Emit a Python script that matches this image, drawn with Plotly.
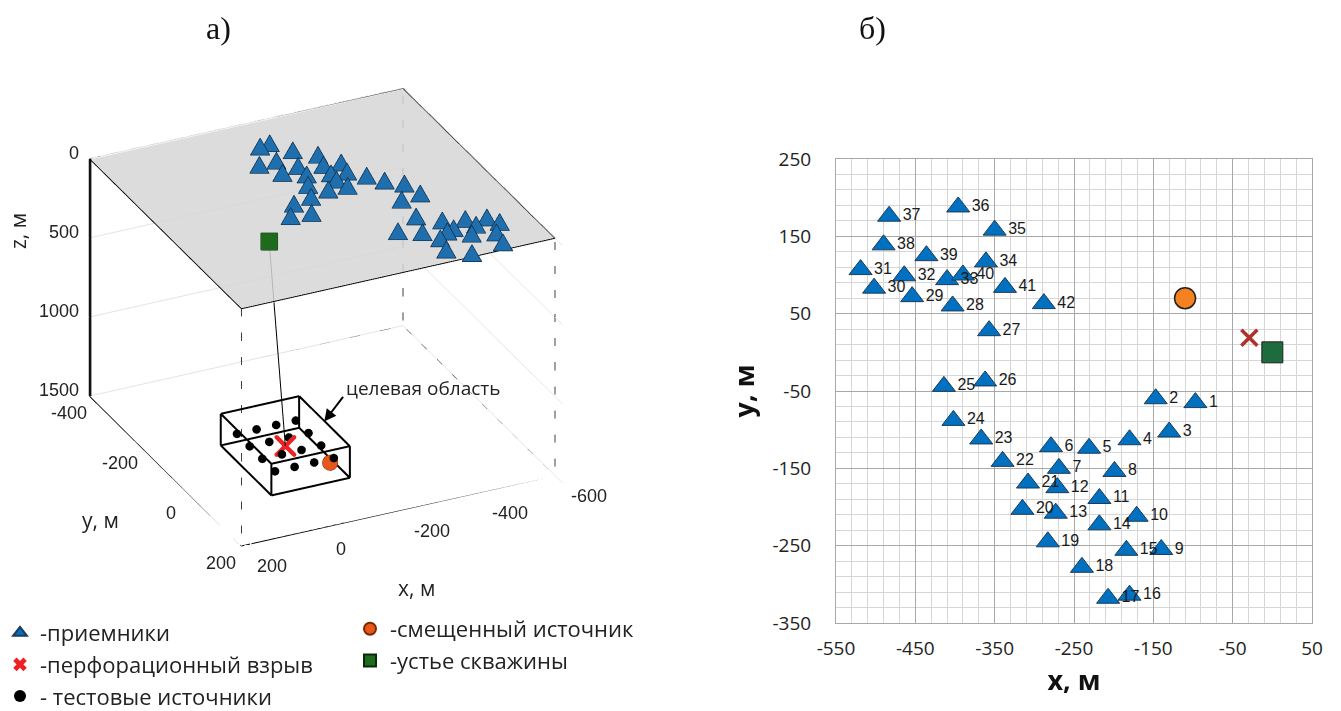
import plotly.graph_objects as go

W, H = 1341, 711

# ---------------- data ----------------
recv_id = list(range(1, 43))
recv_x = [-97, -147, -130, -180, -231, -279, -269, -199, -140, -171,
          -218, -271, -273, -218, -184, -180, -207, -240, -283, -315,
          -308, -340, -367, -402, -414, -362, -357, -403, -454, -502,
          -519, -464, -410, -361, -350, -396, -483, -490, -436, -390,
          -337, -288]
recv_y = [-65, -60, -103, -113, -124, -122, -150, -154, -255, -212,
          -189, -175, -208, -223, -256, -314, -318, -278, -245, -203,
          -169, -141, -112, -88, -44, -37, 28, 60, 72, 83,
          107, 99, 94, 117, 158, 188, 176, 139, 125, 100,
          84, 63]
recv_depth = [0] * 42

wellhead = dict(x=0, y=0, depth=0)
perf = dict(x=-29, y=19, depth=1280)
shifted = dict(x=-110, y=70, depth=1350)

test_x = [-104, -54, -4, 46, -104, -54, -4, 46, -104, -54, -4, 46, -104, -54, -4, 46]
test_y = [-56, -56, -56, -56, -6, -6, -6, -6, 44, 44, 44, 44, 94, 94, 94, 94]
test_depth = [1280] * 16

target_x = [-129, 71]
target_y = [-81, 119]
target_depth = [1180, 1380]

box3d_x = [-600, 200]
box3d_y = [-400, 200]
box3d_depth = [0, 1500]

x3_ticks = [200, 0, -200, -400, -600]
y3_ticks = [-400, -200, 0, 200]
z3_ticks = [0, 500, 1000, 1500]

x2_ticks = [-550, -450, -350, -250, -150, -50, 50]
y2_ticks = [250, 150, 50, -50, -150, -250, -350]
x2_range = [-550, 50]
y2_range = [-350, 250]

# scene ranges (a little head-room so the flat markers resting on the surface are not clipped)
scene_y_range = [-400, 230]
scene_z_range = [-1500, 100]

FONT = "Open Sans, Noto Sans, DejaVu Sans, sans-serif"
ARIAL = "Liberation Sans, Arial, sans-serif"

# view calibration of the 3D camera: data metres (x, y, z-up) per screen pixel
PX_RIGHT = (-2.036, 0.718, 0.0)
PX_UP = (-0.458, -0.709, 4.82)
PX_TOWARD = (0.857, 1.327, 2.575)


def offset(px_right, px_up, px_toward):
    return tuple(px_right * PX_RIGHT[i] + px_up * PX_UP[i] + px_toward * PX_TOWARD[i] for i in range(3))


fig = go.Figure()


def seg(p, q):
    return [p[0], q[0], None], [p[1], q[1], None], [-p[2], -q[2], None]


def add_lines(segs, dash, width, color="black"):
    xs, ys, zs = [], [], []
    for p, q in segs:
        a, b, c = seg(p, q)
        xs += a; ys += b; zs += c
    fig.add_trace(go.Scatter3d(x=xs, y=ys, z=zs, mode="lines",
                               line=dict(color=color, width=width, dash=dash),
                               showlegend=False, hoverinfo="skip"))


# ---------------- 3D panel ----------------
x0, x1 = box3d_x
y0, y1 = box3d_y
d0, d1 = box3d_depth

fig.add_trace(go.Surface(
    x=box3d_x, y=box3d_y, z=[[-d0 - 6, -d0 - 6], [-d0 - 6, -d0 - 6]],
    colorscale=[[0, "#D6D6D6"], [1, "#D6D6D6"]], showscale=False, opacity=0.85,
    lighting=dict(ambient=1, diffuse=0, specular=0, roughness=1, fresnel=0),
    hoverinfo="skip", showlegend=False))

solid = [((x0, y0, d0), (x1, y0, d0)), ((x1, y0, d0), (x1, y1, d0)),
         ((x1, y1, d0), (x0, y1, d0)), ((x0, y1, d0), (x0, y0, d0)),
         ((x1, y0, d1), (x1, y1, d1)), ((x1, y1, d1), (x0, y1, d1))]
dashed = [((x1, y1, d0), (x1, y1, d1)), ((x0, y1, d0), (x0, y1, d1)),
          ((x0, y0, d0), (x0, y0, d1)),
          ((x0, y1, d1), (x0, y0, d1)), ((x0, y0, d1), (x1, y0, d1))]
add_lines(solid, "solid", 2)
add_lines(dashed, "dash", 1.5)

# target area cube
tx0, tx1 = target_x
ty0, ty1 = target_y
td0, td1 = target_depth
cube = []
for d in (td0, td1):
    cube += [((tx0, ty0, d), (tx1, ty0, d)), ((tx1, ty0, d), (tx1, ty1, d)),
             ((tx1, ty1, d), (tx0, ty1, d)), ((tx0, ty1, d), (tx0, ty0, d))]
for xx in (tx0, tx1):
    for yy in (ty0, ty1):
        cube.append(((xx, yy, td0), (xx, yy, td1)))
add_lines(cube, "solid", 4)

# well trajectory
fig.add_trace(go.Scatter3d(x=[wellhead["x"], perf["x"]], y=[wellhead["y"], perf["y"]],
                           z=[-wellhead["depth"], -perf["depth"]], mode="lines",
                           line=dict(color="black", width=2), showlegend=False, hoverinfo="skip"))

# receivers (3D): screen-facing triangle markers resting on the surface
TRI = [(0, 9), (-10, -8.5), (10, -8.5)]
LIFT = 16
mx, my, mz, mi, mj, mk = [], [], [], [], [], []
ox, oy, oz = [], [], []
for n, (rx, ry, rd) in enumerate(zip(recv_x, recv_y, recv_depth)):
    for (u, v) in TRI:
        dx, dy, dz = offset(u, v, LIFT)
        mx.append(rx + dx); my.append(ry + dy); mz.append(-rd + dz)
    mi.append(3 * n); mj.append(3 * n + 1); mk.append(3 * n + 2)
    for (u, v) in TRI + [TRI[0]]:
        dx, dy, dz = offset(u, v, LIFT + 1.5)
        ox.append(rx + dx); oy.append(ry + dy); oz.append(-rd + dz)
    ox.append(None); oy.append(None); oz.append(None)

fig.add_trace(go.Mesh3d(x=mx, y=my, z=mz, i=mi, j=mj, k=mk, color="#1F6EAE", flatshading=True,
                        lighting=dict(ambient=1, diffuse=0, specular=0, roughness=1, fresnel=0),
                        hoverinfo="skip", showlegend=False))
fig.add_trace(go.Scatter3d(x=ox, y=oy, z=oz, mode="lines", line=dict(color="#10304A", width=1.5),
                           hoverinfo="skip", showlegend=False))

fig.add_trace(go.Scatter3d(x=test_x, y=test_y, z=[-d for d in test_depth], mode="markers",
                           marker=dict(size=5, color="black", symbol="circle"),
                           name="- тестовые источники", legend="legend", legendrank=3,
                           hoverinfo="skip"))
fig.add_trace(go.Scatter3d(x=[perf["x"]], y=[perf["y"]], z=[-perf["depth"]], mode="markers",
                           marker=dict(size=5, color="#EE2222", symbol="x"),
                           name="-перфорационный взрыв", legend="legend", legendrank=2,
                           hoverinfo="skip"))
fig.add_trace(go.Scatter3d(x=[shifted["x"]], y=[shifted["y"]], z=[-shifted["depth"]], mode="markers",
                           marker=dict(size=9, color="#E8561A", symbol="circle",
                                       line=dict(color="#7A2A00", width=1)),
                           name="-смещенный источник", legend="legend2", legendrank=4,
                           hoverinfo="skip"))
wdx, wdy, wdz = offset(0, 0, 14)
fig.add_trace(go.Scatter3d(x=[wellhead["x"] + wdx], y=[wellhead["y"] + wdy],
                           z=[-wellhead["depth"] + wdz], mode="markers",
                           marker=dict(size=9, color="#1E6B1E", symbol="square",
                                       line=dict(color="#0A2A0A", width=1)),
                           name="-устье скважины", legend="legend2", legendrank=5,
                           hoverinfo="skip"))

# z-axis edge of the box: a line plus a thin 2-px ribbon just inside the box corner
add_lines([((x1, y0, d0), (x1, y0, d1))], "solid", 2.5, color="#111111")
rdx, rdy, _ = offset(2, 0, 0)
fig.add_trace(go.Mesh3d(
    x=[x1, x1 + rdx, x1 + rdx, x1], y=[y0, y0 + rdy, y0 + rdy, y0],
    z=[-d0, -d0, -d1, -d1], i=[0, 0], j=[1, 2], k=[2, 3], color="#111111", flatshading=True,
    lighting=dict(ambient=1, diffuse=0, specular=0, roughness=1, fresnel=0),
    hoverinfo="skip", showlegend=False))

# ---------------- 2D panel ----------------
fig.add_trace(go.Scatter(x=recv_x, y=recv_y, mode="markers+text", text=[str(i) for i in recv_id],
                         textposition="middle right",
                         textfont=dict(family=ARIAL, size=16, color="#1a1a1a"),
                         marker=dict(symbol="triangle-up", size=20, color="#0070C0",
                                     line=dict(color="#1F3B57", width=1)),
                         name="-приемники", legend="legend", legendrank=1,
                         xaxis="x", yaxis="y", cliponaxis=False, hoverinfo="skip"))
fig.add_trace(go.Scatter(x=[shifted["x"]], y=[shifted["y"]], mode="markers",
                         marker=dict(symbol="circle", size=21, color="#F5821F",
                                     line=dict(color="#222222", width=1.5)),
                         showlegend=False, xaxis="x", yaxis="y", hoverinfo="skip"))
fig.add_trace(go.Scatter(x=[perf["x"]], y=[perf["y"]], mode="markers",
                         marker=dict(symbol="x-thin", size=16, color="#B0302A",
                                     line=dict(color="#B0302A", width=3.5)),
                         showlegend=False, xaxis="x", yaxis="y", hoverinfo="skip"))
fig.add_trace(go.Scatter(x=[wellhead["x"]], y=[wellhead["y"]], mode="markers",
                         marker=dict(symbol="square", size=21, color="#1E6B3E",
                                     line=dict(color="#222222", width=1)),
                         showlegend=False, xaxis="x", yaxis="y", hoverinfo="skip"))

ax3 = dict(showbackground=False, gridcolor="#E4E4E4", zeroline=False, showspikes=False,
           showline=False, ticks="", showticklabels=False, title=dict(text=""))

# 3D tick labels as scene annotations (horizontal text, like the original)
TICKF = dict(family=ARIAL, size=18, color="#222")
scene_ann = []
for v in z3_ticks:
    scene_ann.append(dict(x=x1, y=y0, z=-v, text=str(v), showarrow=False, xanchor="right",
                          yanchor="middle", xshift=-8, yshift=6, font=TICKF))
for v in y3_ticks:
    scene_ann.append(dict(x=x1, y=v, z=-d1, text=str(v), showarrow=False, xanchor="center",
                          yanchor="middle", xshift=-20, yshift=-17, font=TICKF))
for v in x3_ticks:
    scene_ann.append(dict(x=v, y=y1, z=-d1, text=str(v), showarrow=False, xanchor="left",
                          yanchor="middle", xshift=14, yshift=-20, font=TICKF))
arrow_pt = dict(x=target_x[0], y=(target_y[0] + target_y[1]) / 2, z=-target_depth[0])
scene_ann.append(dict(arrow_pt, text="", showarrow=True, ax=20, ay=-26, arrowhead=2,
                      arrowsize=1.2, arrowwidth=2, arrowcolor="black"))
scene_ann.append(dict(arrow_pt, text="целевая область", showarrow=False, xanchor="left",
                      yanchor="middle", xshift=20, yshift=33,
                      font=dict(family=FONT, size=19, color="#222")))

camdir = (0.380, 0.796, 0.471)
dist = 2.0
zoom = 1.17
y_span = (box3d_y[1] - box3d_y[0])
z_span = (box3d_depth[1] - box3d_depth[0])

ann_font = dict(family=FONT, size=21, color="#222")
serif = dict(family="Liberation Serif, Times New Roman, serif", size=32, color="#111")


def pann(px, py, text, font, **kw):
    return dict(x=px / W, y=1 - py / H, xref="paper", yref="paper", text=text, showarrow=False,
                xanchor="center", yanchor="middle", font=font, **kw)


fig.update_layout(
    width=W, height=H,
    margin=dict(l=0, r=0, t=0, b=0, autoexpand=False),
    paper_bgcolor="white", plot_bgcolor="white",
    font=dict(family=FONT, color="#222"),
    scene=dict(
        domain=dict(x=[0.0156, 0.4702], y=[0.1415, 0.9773]),
        aspectmode="manual",
        aspectratio=dict(x=1.0 * zoom,
                         y=1.015 * zoom * (scene_y_range[1] - scene_y_range[0]) / y_span,
                         z=0.774 * zoom * (scene_z_range[1] - scene_z_range[0]) / z_span),
        xaxis=dict(ax3, range=box3d_x, tickvals=x3_ticks, showgrid=False),
        yaxis=dict(ax3, range=scene_y_range, tickvals=y3_ticks, showgrid=False),
        zaxis=dict(ax3, range=scene_z_range, tickvals=[-v for v in z3_ticks], showgrid=True),
        camera=dict(eye=dict(x=camdir[0] * dist, y=camdir[1] * dist, z=camdir[2] * dist),
                    up=dict(x=0, y=0, z=1), center=dict(x=0, y=0, z=0),
                    projection=dict(type="orthographic")),
        annotations=scene_ann,
    ),
    xaxis=dict(domain=[836 / W, 1312 / W], range=x2_range, tickmode="array",
               tickvals=x2_ticks, ticktext=[str(v) for v in x2_ticks],
               showgrid=True, gridcolor="#A8A8A8", gridwidth=1, zeroline=False,
               minor=dict(tick0=-550, dtick=20, showgrid=True, gridcolor="#D6D6D6"),
               showline=True, linecolor="#A8A8A8", mirror=True,
               ticks="outside", ticklen=8, tickcolor="rgba(0,0,0,0)",
               tickfont=dict(family=FONT, size=19, color="#222"),
               title=dict(text="<b>x, м</b>", font=dict(family=FONT, size=27, color="#111"), standoff=8)),
    yaxis=dict(domain=[1 - 623 / H, 1 - 159 / H], range=y2_range, tickmode="array",
               tickvals=y2_ticks, ticktext=[str(v) for v in y2_ticks],
               showgrid=True, gridcolor="#A8A8A8", gridwidth=1, zeroline=False,
               minor=dict(tick0=250, dtick=20, showgrid=True, gridcolor="#D6D6D6"),
               showline=True, linecolor="#A8A8A8", mirror=True,
               ticks="outside", ticklen=20, tickcolor="rgba(0,0,0,0)",
               tickfont=dict(family=FONT, size=19, color="#222"),
               title=dict(text="<b>y, м</b>", font=dict(family=FONT, size=27, color="#111"), standoff=10)),
    legend=dict(x=0, y=1 - 612 / H, xanchor="left", yanchor="top", bgcolor="rgba(0,0,0,0)",
                font=dict(family=FONT, size=22, color="#222"), itemsizing="constant",
                tracegroupgap=0),
    legend2=dict(x=350 / W, y=1 - 608 / H, xanchor="left", yanchor="top", bgcolor="rgba(0,0,0,0)",
                 font=dict(family=FONT, size=22, color="#222"), itemsizing="constant",
                 tracegroupgap=0),
    annotations=[
        pann(218, 28, "а)", serif),
        pann(873, 28, "б)", serif),
        pann(18, 231, "z, м", ann_font, textangle=-90),
        pann(100, 520, "y, м", ann_font),
        pann(417, 588, "x, м", ann_font),
    ],
)

fig.write_html("out.html")
